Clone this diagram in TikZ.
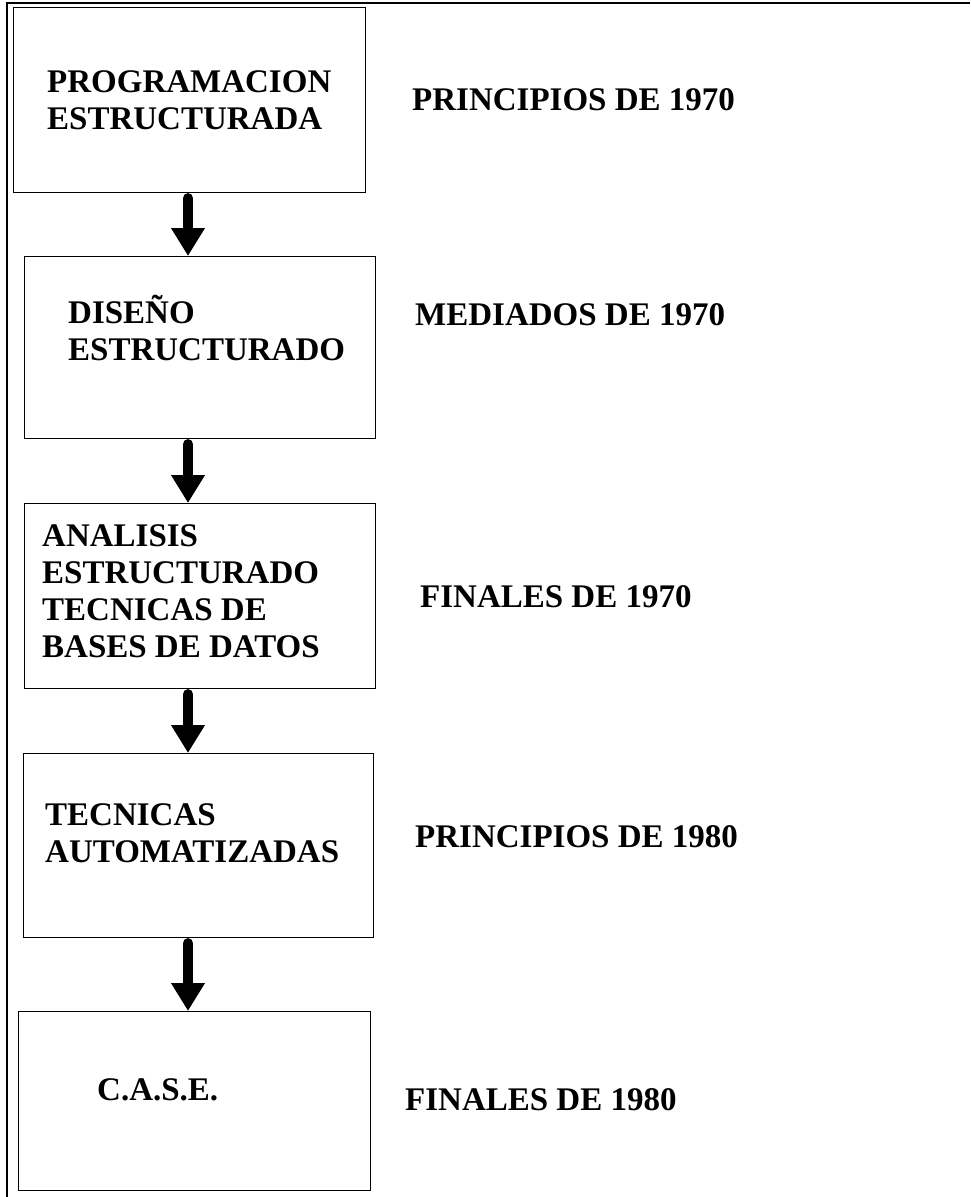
\documentclass[tikz,border=0pt]{standalone}
\usepackage{fontspec}
\setmainfont{Liberation Serif}
\usetikzlibrary{arrows.meta}

\tikzset{
    caja/.style={draw, line width=1.1pt, inner sep=0pt, anchor=north west},
    texto/.style={anchor=west, align=left, inner sep=0pt,
        font=\fontsize{33}{37}\selectfont\bfseries},
    flecha/.style={line width=10pt, line cap=round,
        -{Triangle[width=32pt,length=28pt]}}
}

\begin{document}
\begin{tikzpicture}[x=1pt,y=-1pt]
        \useasboundingbox (0,0) rectangle (970,1197);

        % Draw frame
        \draw [line width=1.1pt] (7,1197) -- (7,3) -- (970,3);

        % Draw boxes
        \node[caja, minimum width=352pt, minimum height=185pt] (b1) at (13,7) {};
        \node[caja, minimum width=351pt, minimum height=182pt] (b2) at (24,256) {};
        \node[caja, minimum width=351pt, minimum height=185pt] (b3) at (24,503) {};
        \node[caja, minimum width=350pt, minimum height=184pt] (b4) at (23,753) {};
        \node[caja, minimum width=352pt, minimum height=179pt] (b5) at (18,1011) {};

        \node[texto] (t1) at (47,100) {PROGRAMACION\\ESTRUCTURADA};
        \node[texto] (t2) at (68,328) {DISEÑO\\ESTRUCTURADO};
        \node[texto] (t3) at (42,591) {ANALISIS\\ESTRUCTURADO\\TECNICAS DE\\BASES DE DATOS};
        \node[texto] (t4) at (45,833) {TECNICAS\\AUTOMATIZADAS};
        \node[texto] (t5) at (97,1090) {C.A.S.E.};

        % Dates
        \node[texto] (d1) at (412,100) {PRINCIPIOS DE 1970};
        \node[texto] (d2) at (415,315) {MEDIADOS DE 1970};
        \node[texto] (d3) at (420,597) {FINALES DE 1970};
        \node[texto] (d4) at (415,837) {PRINCIPIOS DE 1980};
        \node[texto] (d5) at (405,1100) {FINALES DE 1980};

        % Arrows
        \coordinate (eje) at (188,0);
        \foreach \a/\b in {b1/b2, b2/b3, b3/b4, b4/b5}
           {
                \draw [flecha] ([yshift=-5pt]\a.south -| eje) -- (\b.north -| eje);
           }
    \end{tikzpicture}
\end{document}
